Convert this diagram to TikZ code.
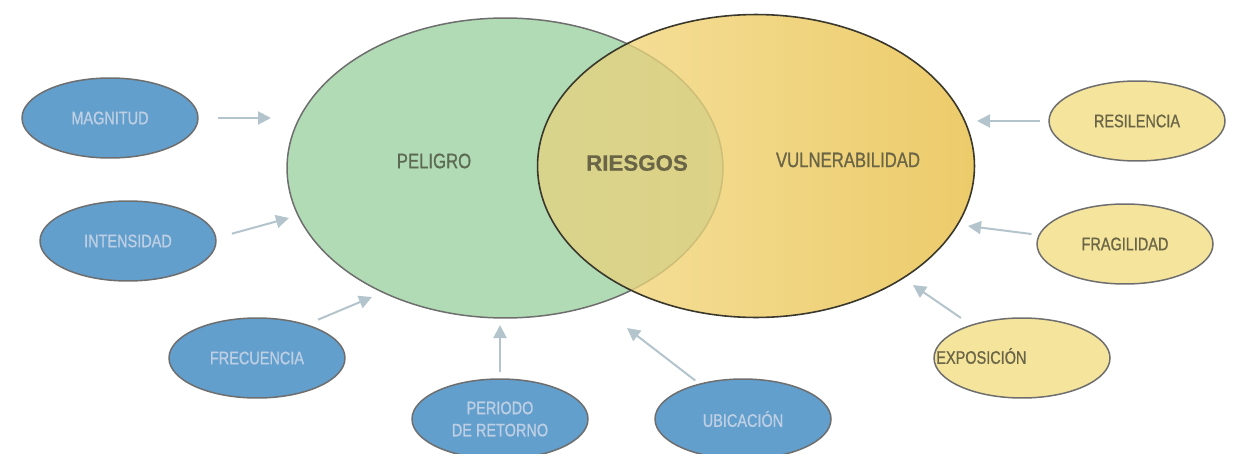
\documentclass[tikz,border=0pt]{standalone}
\usepackage{fontspec}
\setmainfont[FakeStretch=0.8,FakeBold=0.9]{Liberation Sans}
\newfontfamily\riskfont[FakeBold=0.6]{Liberation Sans}
\usetikzlibrary{arrows.meta,shapes.geometric}

\definecolor{r176g219b180}{RGB}{176,219,180}
\definecolor{r110g110b110}{RGB}{110,110,110}
\definecolor{r246g226b160}{RGB}{246,226,160}
\definecolor{r236g203b106}{RGB}{236,203,106}
\definecolor{r217g212b140}{RGB}{217,212,140}
\definecolor{r226g206b126}{RGB}{226,206,126}
\definecolor{r205g190b120}{RGB}{205,190,120}
\definecolor{r58g56b44}{RGB}{58,56,44}
\definecolor{r92g106b82}{RGB}{92,106,82}
\definecolor{r106g101b70}{RGB}{106,101,70}
\definecolor{r98g159b205}{RGB}{98,159,205}
\definecolor{r190g207b228}{RGB}{190,207,228}
\definecolor{r245g228b156}{RGB}{245,228,156}
\definecolor{r180g196b204}{RGB}{180,196,204}

\tikzset{
  bigset/.style={ellipse, inner sep=0pt},
  bigtxt/.style={font=\fontsize{11.9}{14}\selectfont},
  smallset/.style={ellipse, draw=r110g110b110, line width=0.03cm, inner sep=0pt,
    minimum width=3.52cm, minimum height=1.6cm, align=center,
    font=\fontsize{10.3}{12.6}\selectfont},
  smallblue/.style={smallset, fill=r98g159b205, text=r190g207b228},
  smallyel/.style={smallset, fill=r245g228b156, text=r106g101b70},
  feed/.style={draw=r180g196b204, line width=0.04cm,
    -{Triangle[length=0.26cm,width=0.26cm]}}
}

\begin{document}
\begin{tikzpicture}[x=0.02cm, y=-0.02cm]
  \useasboundingbox (0,0) rectangle (1236,453);

  % Drawing ellipse PELIGRO
  \node[bigset, fill=r176g219b180, draw=r110g110b110, line width=0.03cm,
    minimum width=8.72cm, minimum height=6cm] (peligro) at (505,168) {};%

  % Drawing ellipse VULNERABILIDAD
  \node[bigset, left color=r246g226b160, right color=r236g203b106,
    minimum width=8.74cm, minimum height=6.06cm] (vulner) at (756,166) {};%

  % Drawing overlap RIESGOS
  \begin{scope}
    \clip (peligro.center) ellipse [x radius=4.36cm, y radius=3cm];
    \fill[left color=r217g212b140, right color=r226g206b126]
      (vulner.center) ellipse [x radius=4.37cm, y radius=3.03cm];
  \end{scope}
  \begin{scope}
    \clip (vulner.center) ellipse [x radius=4.37cm, y radius=3.03cm];
    \draw[r205g190b120, line width=0.03cm]
      (peligro.center) ellipse [x radius=4.36cm, y radius=3cm];
  \end{scope}
  \draw[r58g56b44, line width=0.032cm]
    (vulner.center) ellipse [x radius=4.37cm, y radius=3.03cm];

  % Marking texts
  \node[bigtxt, text=r92g106b82] (tPel) at (434,161) {PELIGRO};%
  \node[bigtxt, text=r106g101b70] (tVul) at (848,160) {VULNERABILIDAD};%
  \node[text=r106g101b70, font=\riskfont\bfseries\fontsize{12.7}{14}\selectfont]
    (tRie) at (637,163) {RIESGOS};%

  % Drawing small ellipses
  \node[smallblue] (mag) at (110,118) {MAGNITUD};%
  \node[smallblue] (inten) at (128,241) {INTENSIDAD};%
  \node[smallblue] (frec) at (257,358) {FRECUENCIA};%
  \node[smallblue] (peri) at (500,419) {PERIODO\\DE RETORNO};%
  \node[smallblue] (ubi) at (743,419) {UBICACIÓN};%
  \node[smallyel] (resi) at (1137,121) {RESILENCIA};%
  \node[smallyel] (frag) at (1125,244) {FRAGILIDAD};%
  \node[smallyel] (expo) at (1022,358) {};%
  \node[text=r106g101b70, font=\fontsize{10.3}{12.6}\selectfont, anchor=west,
    inner sep=0pt] (tExpo) at (936,356) {EXPOSICIÓN};%

  % Drawing arrows
  \coordinate (tipMag) at (271,118);
  \coordinate (tipInt) at (289,218);
  \coordinate (tipFrec) at (372,297);
  \coordinate (tipPeri) at (500,325);
  \coordinate (tipUbi) at (627,328);
  \coordinate (tipResi) at (977,121);
  \coordinate (tipFrag) at (968,226);
  \coordinate (tipExpo) at (913,285);

  \draw[feed, shorten <=0.38cm] (mag.0) -- (tipMag);%
  \draw[feed, shorten <=0.32cm] (inten.2) -- (tipInt);%
  \draw[feed, shorten <=0.24cm] (frec.34) -- (tipFrec);%
  \draw[feed, shorten <=0.12cm] (peri.90) -- (tipPeri);%
  \draw[feed, shorten <=0.1cm] (ubi.141) -- (tipUbi);%
  \draw[feed, shorten <=0.16cm] (resi.180) -- (tipResi);%
  \draw[feed, shorten <=0.14cm] (frag.174) -- (tipFrag);%
  \draw[feed, shorten <=0.24cm] (expo.147) -- (tipExpo);%
\end{tikzpicture}
\end{document}
